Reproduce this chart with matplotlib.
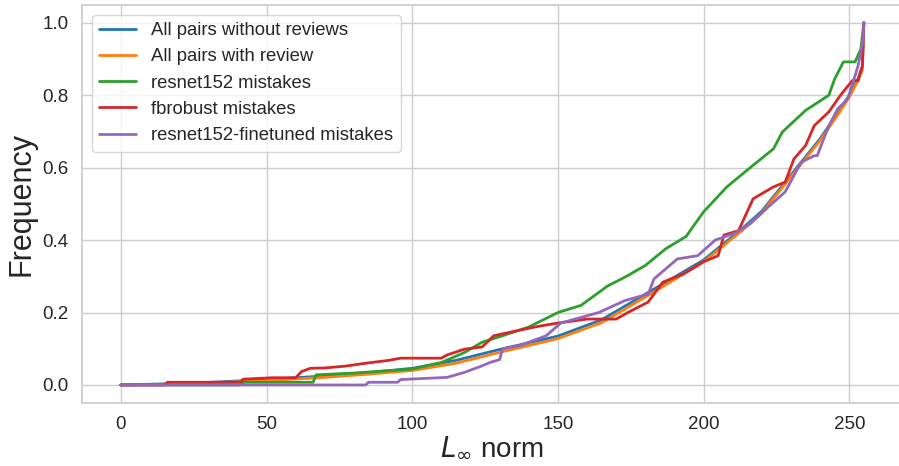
import matplotlib
matplotlib.use("Agg")
import matplotlib.pyplot as plt
import seaborn as sns

# CDF curves
x_all = [0, 15, 30, 50, 70, 85, 100, 115, 130, 150, 165, 182, 200, 213, 220, 228, 235, 240, 246, 250, 253, 254.5, 255]
y_no_review = [0, 0.003, 0.007, 0.015, 0.025, 0.034, 0.046, 0.068, 0.098, 0.135, 0.18, 0.26, 0.345, 0.43, 0.48,
               0.56, 0.63, 0.68, 0.75, 0.80, 0.845, 0.88, 1.0]
y_review = [0, 0.002, 0.005, 0.012, 0.021, 0.03, 0.04, 0.06, 0.09, 0.128, 0.172, 0.252, 0.34, 0.425, 0.475,
            0.555, 0.625, 0.675, 0.745, 0.795, 0.84, 0.87, 1.0]

x_resnet = [0, 41, 42, 66, 67, 80, 100, 110, 118, 124, 131, 140, 150, 158, 167, 174, 180, 187, 194, 200, 208,
            216, 224, 227, 235, 243, 245, 248, 252, 254, 255]
y_resnet = [0, 0, 0.0075, 0.0075, 0.028, 0.033, 0.044, 0.062, 0.09, 0.118, 0.136, 0.16, 0.2, 0.22, 0.273, 0.302,
            0.33, 0.376, 0.41, 0.478, 0.547, 0.6, 0.652, 0.698, 0.758, 0.80, 0.845, 0.892, 0.892, 0.928, 1.0]

x_fb = [0, 15, 16, 41, 42, 52, 60, 62, 65, 70, 77, 84, 92, 96, 110, 112, 118, 124, 128, 142, 150, 160, 170, 174,
        181, 186, 193, 200, 205, 207, 212, 217, 224, 228, 231, 235, 238, 243, 247, 251, 253, 254.5, 255]
y_fb = [0, 0, 0.0075, 0.0075, 0.016, 0.02, 0.02, 0.037, 0.046, 0.047, 0.052, 0.06, 0.068, 0.074, 0.074, 0.083,
        0.099, 0.105, 0.136, 0.16, 0.171, 0.182, 0.182, 0.2, 0.229, 0.284, 0.306, 0.34, 0.357, 0.414, 0.426, 0.514,
        0.547, 0.56, 0.624, 0.661, 0.716, 0.754, 0.80, 0.84, 0.84, 0.88, 1.0]

x_ft = [0, 84, 85, 95, 96, 112, 118, 124, 127, 130, 131, 137, 146, 151, 164, 173, 181, 183, 191, 198, 204, 211,
        216, 222, 228, 233.5, 238, 239, 242.7, 246, 249.5, 253, 254.7, 255]
y_ft = [0, 0, 0.0075, 0.0075, 0.015, 0.021, 0.035, 0.053, 0.063, 0.07, 0.1, 0.109, 0.136, 0.171, 0.2, 0.233, 0.251,
        0.293, 0.348, 0.357, 0.4, 0.42, 0.445, 0.49, 0.533, 0.615, 0.633, 0.633, 0.71, 0.762, 0.79, 0.88, 0.95, 1.0]

sns.set_theme(style="whitegrid")
plt.rcParams['font.family'] = ['Liberation Sans', 'DejaVu Sans']

fig = plt.figure(figsize=(8.99, 4.66), dpi=100)
ax = fig.add_axes([0.091, 0.135, 0.912, 0.855])

lw = 2
ax.plot(x_all, y_no_review, color='tab:blue', lw=lw, label='All pairs without reviews')
ax.plot(x_all, y_review, color='tab:orange', lw=lw, label='All pairs with review')
ax.plot(x_resnet, y_resnet, color='tab:green', lw=lw, label='resnet152 mistakes')
ax.plot(x_fb, y_fb, color='tab:red', lw=lw, label='fbrobust mistakes')
ax.plot(x_ft, y_ft, color='tab:purple', lw=lw, label='resnet152-finetuned mistakes')

ax.set_xlim(-13.4, 268)
ax.set_ylim(-0.05, 1.05)
ax.set_xticks([0, 50, 100, 150, 200, 250])
ax.set_yticks([0.0, 0.2, 0.4, 0.6, 0.8, 1.0])
ax.tick_params(labelsize=13.5)
ax.set_xlabel(r'$L_\infty$ norm', fontsize=20, labelpad=1)
ax.set_ylabel('Frequency', fontsize=22)
ax.legend(loc='upper left', fontsize=13.3, borderaxespad=0.55)

fig.savefig('out.png', dpi=100)
